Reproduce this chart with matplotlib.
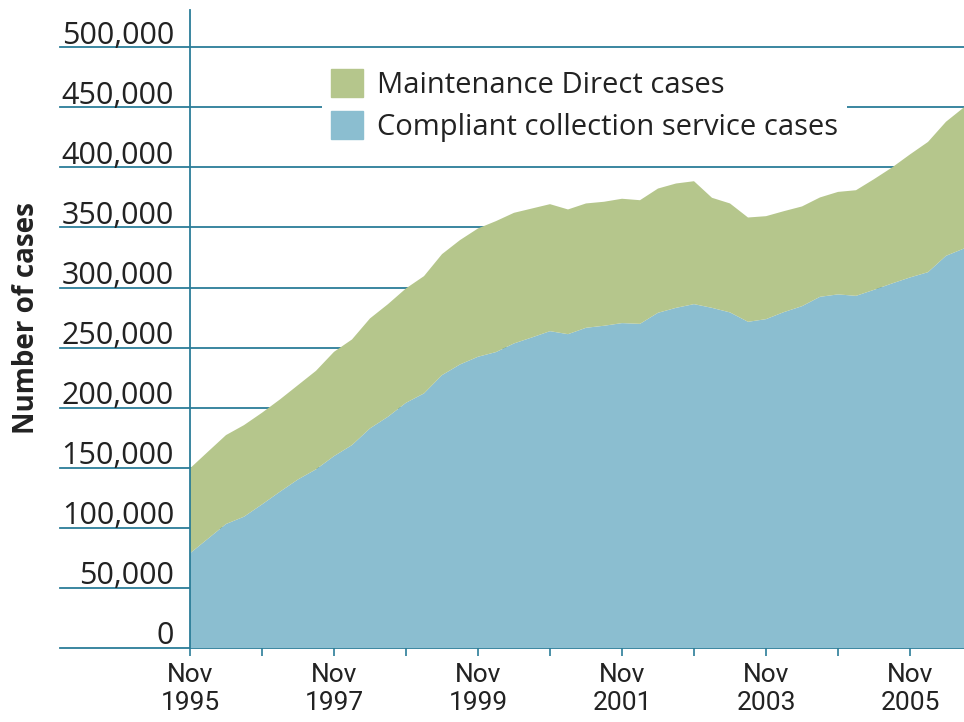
import matplotlib
matplotlib.use('Agg')
import matplotlib.pyplot as plt
import matplotlib.transforms as mtransforms
from matplotlib.patches import Patch
import numpy as np

# quarterly figures, Nov 1995 -> Aug 2006
compliant = [78800, 91000, 103200, 109300, 119500, 130100, 140300, 148700,
             159700, 168900, 182800, 192500, 204100, 211900, 227100, 236000,
             242400, 246300, 253500, 258500, 263700, 261200, 266500, 268200,
             270400, 269800, 279000, 283100, 286200, 283100, 279300, 271500,
             273700, 279600, 284500, 292300, 294300, 293100, 298100, 303400,
             308400, 312800, 326400, 332500]
maint_direct = [70700, 72400, 74000, 76200, 76300, 76800, 78500, 82000,
                86800, 87900, 91500, 93700, 95200, 97600, 100700, 103500,
                106800, 109000, 108700, 107300, 105700, 103800, 103500, 103200,
                103500, 102900, 103400, 103500, 102300, 91600, 90700, 86800,
                85700, 84000, 83000, 82700, 85300, 87900, 92100, 96500,
                102400, 108400, 111600, 117500]
ytick_vals = [0, 50000, 100000, 150000, 200000, 250000, 300000, 350000, 400000, 450000, 500000]
ytick_labels = ['0', '50,000', '100,000', '150,000', '200,000', '250,000',
                '300,000', '350,000', '400,000', '450,000', '500,000']
xtick_labels = ['Nov\n1995', 'Nov\n1997', 'Nov\n1999', 'Nov\n2001', 'Nov\n2003', 'Nov\n2005']

green = '#b5c68c'
blue = '#8bbed0'
teal = '#2b7d98'

plt.rcParams['font.family'] = ['Open Sans', 'DejaVu Sans']

fig = plt.figure(figsize=(9.64, 7.22), dpi=100)
ax = fig.add_axes([190/964, 1 - 648/722, 774/964, 638/722])

x = np.arange(len(compliant))
ax.stackplot(x, compliant, maint_direct, colors=[blue, green], zorder=2, linewidth=0)

ax.set_xlim(0, len(compliant) - 1)
ax.set_ylim(0, 531000)

# gridlines running out past the axis on the left
trans = mtransforms.blended_transform_factory(ax.transAxes, ax.transData)
x0 = (60 - 190) / 774
for v, lab in zip(ytick_vals, ytick_labels):
    ax.plot([x0, 1], [v, v], color=teal, lw=1.3, transform=trans, clip_on=False, zorder=1)
    ax.text((174 - 190) / 774, v + 3000, lab, transform=trans, ha='right', va='baseline',
            fontsize=22, color='#222222')

for s in ['top', 'right', 'bottom']:
    ax.spines[s].set_visible(False)
ax.spines['left'].set_color(teal)
ax.spines['left'].set_linewidth(1.3)
ax.spines['left'].set_zorder(3)

ax.set_yticks([])
ax.set_xticks(np.arange(0, len(compliant), 4), minor=True)
ax.set_xticks(np.arange(0, len(compliant), 8))
ax.set_xticklabels(xtick_labels, fontsize=19, linespacing=1.2, color='#222222',
                   family=['Liberation Sans Narrow', 'Roboto'])
ax.tick_params(axis='x', which='both', length=6, width=1.2, color=teal, pad=5)

fig.text(27 / 964, 1 - 318 / 722, 'Number of cases', rotation=90, ha='center', va='center',
         fontsize=20, fontweight='bold', color='#222222')

handles = [Patch(color=green), Patch(color=blue)]
leg = ax.legend(handles, ['Maintenance Direct cases', 'Compliant collection service cases'],
                loc='upper left', bbox_to_anchor=(322 / 964, 1 - 60 / 722),
                bbox_transform=fig.transFigure, frameon=True, fontsize=21,
                handlelength=1.1, handleheight=1.1, handletextpad=0.5,
                labelspacing=0.4, borderpad=0.3, borderaxespad=0)
leg.get_frame().set_facecolor('white')
leg.get_frame().set_edgecolor('none')
leg.get_frame().set_alpha(1)
leg.set_zorder(4)
for t in leg.get_texts():
    t.set_color('#222222')

fig.savefig('out.png', dpi=100)
